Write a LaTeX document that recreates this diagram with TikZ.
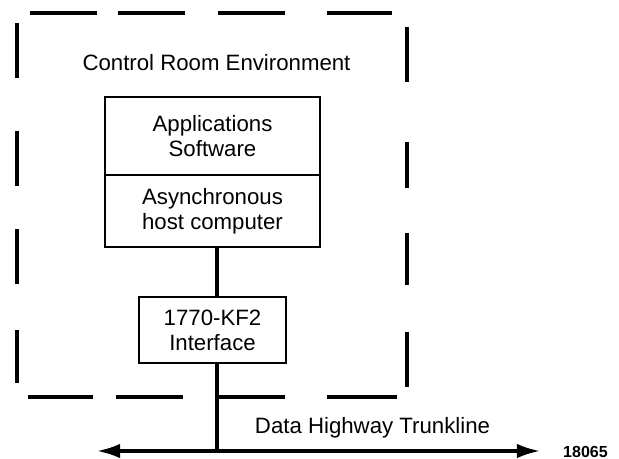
\documentclass[tikz,border=0pt]{standalone}
\usepackage{fontspec}
\setmainfont{Liberation Sans}
\usepackage{tikz}
\usetikzlibrary{arrows.meta,calc}

\begin{document}
\begin{tikzpicture}[x=0.025cm, y=-0.025cm,
    txt/.style={font=\fontsize{15.8}{17.8}\selectfont, align=center, inner sep=0pt},
    unit/.style={txt, draw, line width=2pt, minimum width=5.375cm},
    wall/.style={line width=2.4pt},
    link/.style={line width=2.2pt}]
    %%Background
    \useasboundingbox (0,0) rectangle (619,459);

    %%Room
    \foreach \a/\b in {30/97, 118/185, 218/285, 327/392}
        \draw[wall] (\a,13) -- (\b,13);
    \foreach \a/\b in {28/93, 116/183, 219/285, 327/397}
        \draw[wall] (\a,397) -- (\b,397);
    \foreach \a/\b in {23/78, 131/186, 229/284, 330/383}
        \draw[wall] (17,\a) -- (17,\b);
    \foreach \a/\b in {27/82, 142/188, 233/285, 332/387}
        \draw[wall] (407,\a) -- (407,\b);
    \node[txt] (room) at (216.5,63) {Control Room Environment};

    %%Host
    \node[unit, minimum height=1.95cm] (apps) at (212.5,136) {Applications\\Software};
    \node[unit, minimum height=1.8cm] (host) at (212.5,211) {Asynchronous\\host computer};

    %%Interface
    \node[unit, minimum width=3.675cm, minimum height=1.65cm] (kf2) at (212.5,330) {1770-KF2\\Interface};

    %%Trunkline
    \coordinate (tap) at (217,451);
    \coordinate (west) at (97,451);
    \coordinate (east) at (540,451);
    \draw[link] (host.south -| tap) -- (kf2.north -| tap);
    \draw[link] (kf2.south -| tap) -- (tap);
    \draw[link, {Latex[length=0.575cm, width=0.36cm]}-{Latex[length=0.575cm, width=0.36cm]}] (west) -- (east);

    %% Note
    \node[txt] (trunk) at (372.5,428) {Data Highway Trunkline};
    \node[txt, font=\fontsize{11.4}{13}\selectfont\bfseries] (fig) at (585.5,452) {18065};
\end{tikzpicture}
\end{document}
